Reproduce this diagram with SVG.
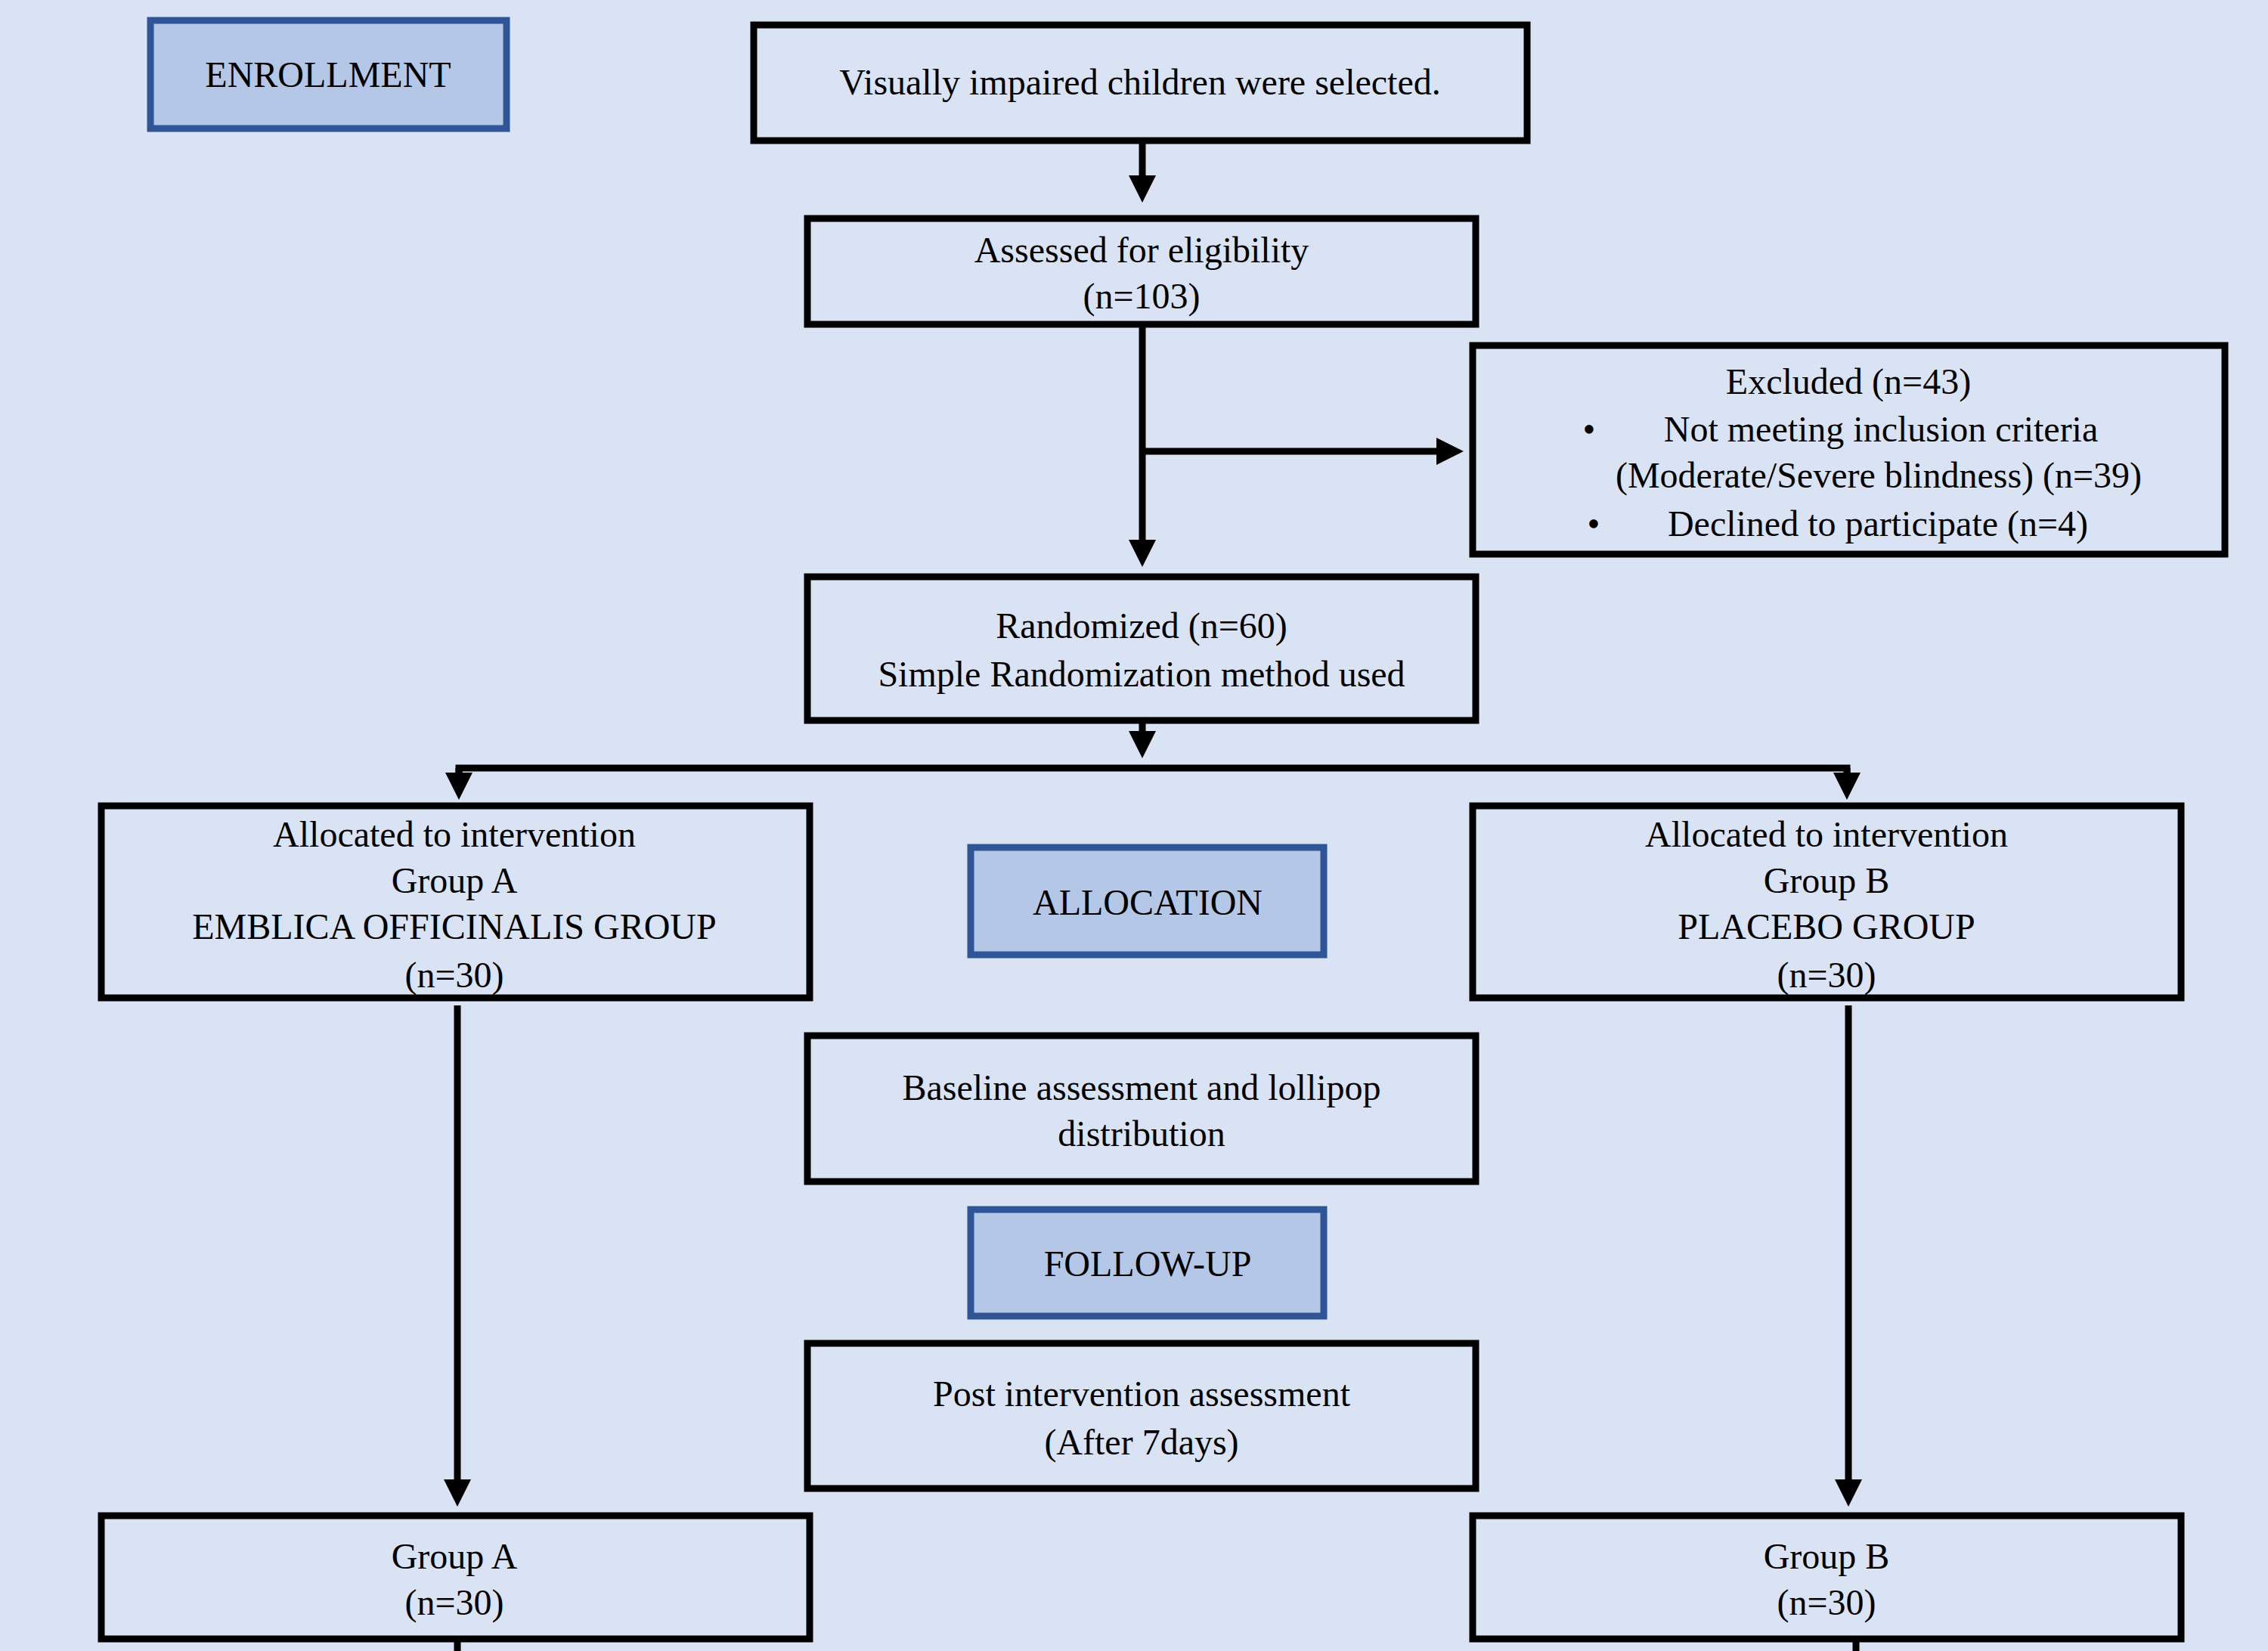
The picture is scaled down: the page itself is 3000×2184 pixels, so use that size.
<svg xmlns="http://www.w3.org/2000/svg" width="3000" height="2184" viewBox="0 0 3000 2184">
<style>
.b{fill:none;stroke:#000;stroke-width:9}
.l{fill:#b4c7e7;stroke:#2f5597;stroke-width:9}
text{font-family:"Liberation Serif",serif;font-size:48px;text-anchor:middle;fill:#000}
.c{stroke:#000;stroke-width:9;fill:none}
</style>
<defs><marker id="a" markerWidth="4" markerHeight="4" refX="2" refY="2" orient="auto" markerUnits="strokeWidth"><path d="M0,0L4,2L0,4z" fill="#000"/></marker></defs>
<rect width="3000" height="2184" fill="#dae3f3"/>
<g id="connectors">
<line class="c" x1="1511" y1="186" x2="1511" y2="250" marker-end="url(#a)"/>
<line class="c" x1="1511" y1="429" x2="1511" y2="732" marker-end="url(#a)"/>
<line class="c" x1="1511" y1="597" x2="1918" y2="597" marker-end="url(#a)"/>
<line class="c" x1="1511" y1="953" x2="1511" y2="985" marker-end="url(#a)"/>
<polyline class="c" points="607,1040 607,1016 2443,1016 2443,1040"/>
<line class="c" x1="607" y1="1016" x2="607" y2="1040" marker-end="url(#a)"/>
<line class="c" x1="2443" y1="1016" x2="2443" y2="1040" marker-end="url(#a)"/>
<line class="c" x1="605" y1="1330" x2="605" y2="1975" marker-end="url(#a)"/>
<line class="c" x1="2445" y1="1330" x2="2445" y2="1975" marker-end="url(#a)"/>
<line class="c" x1="605" y1="2168" x2="605" y2="2184"/>
<line class="c" x1="2455" y1="2168" x2="2455" y2="2184"/>
</g>
<g id="enrollment"><rect class="l" x="199" y="27" width="471" height="143"/><text x="434" y="115">ENROLLMENT</text></g>
<g id="selected"><rect class="b" x="997" y="33" width="1023" height="153"/><text x="1508" y="125">Visually impaired children were selected.</text></g>
<g id="assessed"><rect class="b" x="1068" y="289" width="884" height="140"/><text x="1510" y="347">Assessed for eligibility</text><text x="1510" y="408">(n=103)</text></g>
<g id="excluded"><rect class="b" x="1948" y="457" width="995" height="276"/><text x="2445" y="521">Excluded (n=43)</text><text x="2102" y="584">•</text><text x="2488" y="584">Not meeting inclusion criteria</text><text x="2485" y="645">(Moderate/Severe blindness) (n=39)</text><text x="2108" y="709">•</text><text x="2484" y="709">Declined to participate (n=4)</text></g>
<g id="randomized"><rect class="b" x="1068" y="763" width="884" height="190"/><text x="1510" y="844">Randomized (n=60)</text><text x="1510" y="908">Simple Randomization method used</text></g>
<g id="groupA-alloc"><rect class="b" x="134" y="1066" width="937" height="254"/><text x="601" y="1120">Allocated to intervention</text><text x="601" y="1181">Group A</text><text x="601" y="1242">EMBLICA OFFICINALIS  GROUP</text><text x="601" y="1306">(n=30)</text></g>
<g id="allocation"><rect class="l" x="1284" y="1121" width="467" height="142"/><text x="1518" y="1210">ALLOCATION</text></g>
<g id="groupB-alloc"><rect class="b" x="1948" y="1066" width="937" height="254"/><text x="2416" y="1120">Allocated to intervention</text><text x="2416" y="1181">Group B</text><text x="2416" y="1242">PLACEBO GROUP</text><text x="2416" y="1306">(n=30)</text></g>
<g id="baseline"><rect class="b" x="1068" y="1370" width="884" height="193"/><text x="1510" y="1455">Baseline assessment and lollipop</text><text x="1510" y="1516">distribution</text></g>
<g id="followup"><rect class="l" x="1284" y="1600" width="467" height="141"/><text x="1518" y="1688">FOLLOW-UP</text></g>
<g id="post"><rect class="b" x="1068" y="1777" width="884" height="192"/><text x="1510" y="1860">Post intervention assessment</text><text x="1510" y="1924">(After 7days)</text></g>
<g id="groupA"><rect class="b" x="134" y="2005" width="937" height="163"/><text x="601" y="2075">Group A</text><text x="601" y="2136">(n=30)</text></g>
<g id="groupB"><rect class="b" x="1948" y="2005" width="937" height="163"/><text x="2416" y="2075">Group B</text><text x="2416" y="2136">(n=30)</text></g>
</svg>
